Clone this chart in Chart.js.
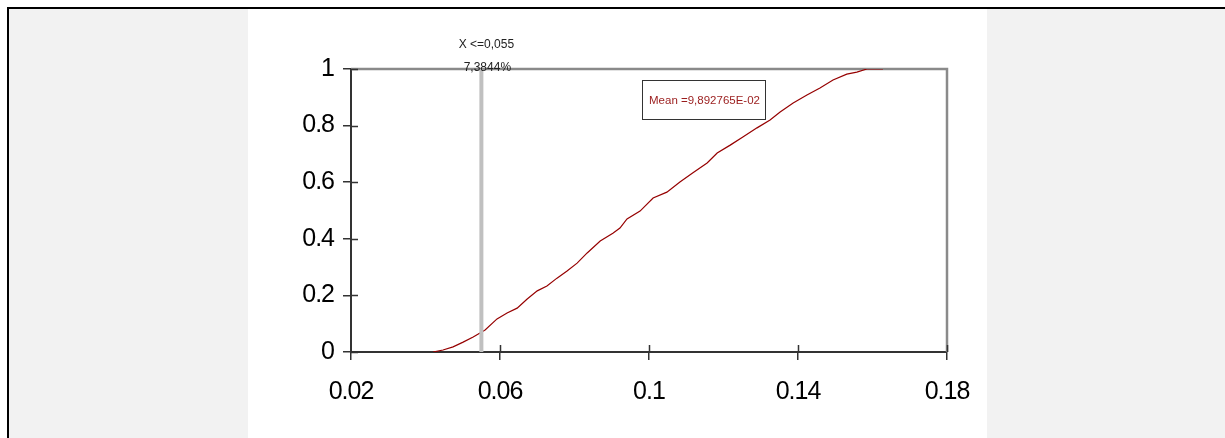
<!DOCTYPE html>
<html>
<head>
<meta charset="utf-8">
<script src="https://cdn.jsdelivr.net/npm/chart.js@4/dist/chart.umd.min.js"></script>
<style>
    html, body { margin: 0; padding: 0; background: #fff; }
    #page { position: relative; width: 1225px; height: 438px; overflow: hidden; }
    .frame-top { position: absolute; left: 7px; top: 7px; right: 0; height: 2px; background: #000; }
    .frame-left { position: absolute; left: 7px; top: 7px; bottom: 0; width: 2px; background: #000; }
    .side { position: absolute; top: 9px; bottom: 0; background: #f2f2f2; }
    #chart { position: absolute; left: 0; top: 0; }
</style>
</head>
<body>
<div id="page">
    <div class="frame-top"></div>
    <div class="frame-left"></div>
    <div class="side" style="left:9px; width:239px;"></div>
    <div class="side" style="left:987px; right:0;"></div>
    <canvas id="chart" width="1225" height="438"></canvas>
</div>
<script>
// cumulative distribution
const xValues = [0.042, 0.0447, 0.0474, 0.0501, 0.0528, 0.056, 0.0592, 0.0619, 0.0646, 0.0673,
    0.07, 0.0726, 0.0753, 0.078, 0.0807, 0.0834, 0.0869, 0.0903, 0.0922, 0.0941,
    0.0976, 0.1011, 0.1048, 0.1083, 0.1118, 0.1156, 0.1183, 0.1218, 0.1252, 0.129,
    0.1325, 0.1352, 0.1387, 0.1424, 0.1459, 0.1494, 0.1531, 0.1558, 0.1585, 0.1628];
const cdfValues = [0, 0.007, 0.018, 0.035, 0.053, 0.078, 0.117, 0.138, 0.155, 0.187,
    0.216, 0.233, 0.261, 0.286, 0.314, 0.350, 0.392, 0.420, 0.438, 0.470,
    0.498, 0.544, 0.565, 0.601, 0.633, 0.668, 0.703, 0.731, 0.760, 0.792,
    0.820, 0.848, 0.880, 0.908, 0.933, 0.961, 0.982, 0.989, 1.0, 1.0];

const markerX = [0.055, 0.055];
const markerY = [0, 1];
const markerLabel = 'X <=0,055';
const markerPct = '7,3844%';
const meanLabel = 'Mean =9,892765E-02';

const xTickValues = [0.02, 0.06, 0.10, 0.14, 0.18];
const xTickLabels = ['0.02', '0.06', '0.1', '0.14', '0.18'];
const yTickValues = [0, 0.2, 0.4, 0.6, 0.8, 1];
const yTickLabels = ['0', '0.2', '0.4', '0.6', '0.8', '1'];

const FONT = "'Liberation Sans', Arial, sans-serif";
const AXIS_DARK = '#333333';

const framePlugin = {
    id: 'frame',
    beforeDraw(chart) {
        chart.ctx.letterSpacing = '-1px';
    },
    beforeDatasetsDraw(chart) {
        const { ctx, chartArea: a } = chart;
        ctx.save();
        // grey top and right borders of the plot box
        ctx.strokeStyle = '#8a8a8a';
        ctx.lineWidth = 2.5;
        ctx.beginPath();
        ctx.moveTo(a.left, a.top);
        ctx.lineTo(a.right, a.top);
        ctx.lineTo(a.right, a.bottom);
        ctx.stroke();
        // inner halves of the tick marks
        ctx.strokeStyle = AXIS_DARK;
        ctx.lineWidth = 1.5;
        const xs = chart.scales.x, ys = chart.scales.y;
        ctx.beginPath();
        xTickValues.slice(1).forEach(v => {
            const px = Math.round(xs.getPixelForValue(v)) + 0.5;
            ctx.moveTo(px, a.bottom);
            ctx.lineTo(px, a.bottom - 7);
        });
        yTickValues.forEach(v => {
            const py = Math.round(ys.getPixelForValue(v)) + 0.5;
            ctx.moveTo(a.left, py);
            ctx.lineTo(a.left + 7, py);
        });
        ctx.stroke();
        ctx.restore();
    },
    afterDraw(chart) {
        const { ctx, chartArea: a } = chart;
        ctx.save();
        ctx.letterSpacing = '0px';
        const mx = chart.scales.x.getPixelForValue(markerX[0]);
        ctx.fillStyle = '#222';
        ctx.font = '12px ' + FONT;
        ctx.textAlign = 'center';
        ctx.textBaseline = 'middle';
        ctx.fillText(markerLabel, mx + 5, a.top - 24);
        ctx.fillText(markerPct, mx + 6, a.top - 1);

        // mean box
        const bx = a.left + 291, by = a.top + 11, bw = 123, bh = 39;
        ctx.fillStyle = '#fff';
        ctx.fillRect(bx, by, bw, bh);
        ctx.strokeStyle = '#333';
        ctx.lineWidth = 1;
        ctx.strokeRect(bx + 0.5, by + 0.5, bw, bh);
        ctx.fillStyle = '#9a1c1c';
        ctx.font = '11.5px ' + FONT;
        ctx.fillText(meanLabel, bx + bw / 2 + 1, by + bh / 2 + 1);
        ctx.restore();
    }
};

new Chart(document.getElementById('chart').getContext('2d'), {
    type: 'line',
    data: {
        datasets: [
            {
                label: 'marker',
                data: markerX.map((x, i) => ({ x: x, y: markerY[i] })),
                borderColor: '#c0c0c0',
                borderWidth: 4,
                pointRadius: 0,
                order: 0
            },
            {
                label: 'cdf',
                data: xValues.map((x, i) => ({ x: x, y: cdfValues[i] })),
                borderColor: '#960000',
                borderWidth: 1.2,
                pointRadius: 0,
                tension: 0,
                order: 1
            }
        ]
    },
    options: {
        responsive: false,
        animation: false,
        devicePixelRatio: 1,
        layout: { padding: { left: 0, top: 69, right: 278, bottom: 0 } },
        plugins: { legend: { display: false }, tooltip: { enabled: false } },
        scales: {
            x: {
                type: 'linear',
                min: 0.02,
                max: 0.18,
                afterBuildTicks: s => { s.ticks = xTickValues.map(v => ({ value: v })); },
                afterFit: s => { s.height = 86; },
                border: { display: true, color: AXIS_DARK, width: 2 },
                grid: { drawOnChartArea: false, drawTicks: true, tickLength: 8, color: AXIS_DARK, lineWidth: 1.5 },
                ticks: {
                    autoSkip: false,
                    maxRotation: 0,
                    padding: 17,
                    color: '#000',
                    font: { family: FONT, size: 25 },
                    callback: (v, i) => xTickLabels[i]
                }
            },
            y: {
                type: 'linear',
                min: 0,
                max: 1,
                afterBuildTicks: s => { s.ticks = yTickValues.map(v => ({ value: v })); },
                afterFit: s => { s.width = 351; },
                border: { display: true, color: AXIS_DARK, width: 2 },
                grid: { drawOnChartArea: false, drawTicks: true, tickLength: 8, color: AXIS_DARK, lineWidth: 1.5 },
                ticks: {
                    autoSkip: false,
                    padding: 9,
                    color: '#000',
                    font: { family: FONT, size: 25 },
                    callback: (v, i) => yTickLabels[i]
                }
            }
        }
    },
    plugins: [framePlugin]
});
</script>
</body>
</html>
